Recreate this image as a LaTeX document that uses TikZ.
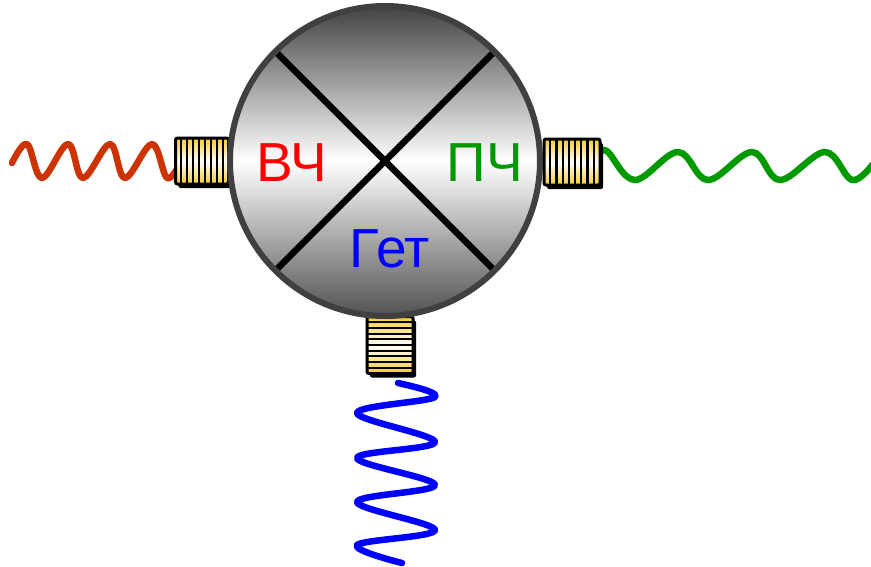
\documentclass[tikz,border=0pt]{standalone}
\usepackage{fontspec}
\setmainfont{Liberation Sans}
\usetikzlibrary{calc,shadows}
\definecolor{brass}{HTML}{F5CA2E}
\definecolor{rfred}{HTML}{CC3300}
\definecolor{ifgreen}{HTML}{009900}
\definecolor{rim}{HTML}{404040}
\begin{document}
\begin{tikzpicture}[x=1pt, y=-1pt,
        mixer/.style={circle, draw=rim, line width=6pt, minimum size=310pt, inner sep=0pt,
            top color=black!74, bottom color=black!68, middle color=white},
        port/.style={rectangle, draw=black, line width=3pt, rounded corners=2pt, inner sep=0pt,
            top color=brass, bottom color=brass, middle color=white,
            general shadow={fill=black, shadow xshift=3pt, shadow yshift=-4pt}},
        vstripes/.style={path picture={
            \foreach \i in {1,...,8}
                \draw[line width=2.2pt]
                    ($(path picture bounding box.north west)!\i/9!(path picture bounding box.north east)$) --
                    ($(path picture bounding box.south west)!\i/9!(path picture bounding box.south east)$);
        }},
        hstripes/.style={path picture={
            \foreach \i in {1,...,9}
                \draw[line width=1.9pt]
                    ($(path picture bounding box.north west)!\i/10!(path picture bounding box.south west)$) --
                    ($(path picture bounding box.north east)!\i/10!(path picture bounding box.south east)$);
        }},
        wave/.style={line width=6.5pt, line cap=round, line join=round},
        sig/.style={font=\fontsize{55}{60}\selectfont, inner sep=0pt}
    ]
        \useasboundingbox (0,0) rectangle (871,566);

        % Signal waves
        \coordinate (rfsrc) at (12,163);
        \coordinate (ifdst) at (873,164);
        \coordinate (losrc) at (402,563);
        \draw[wave, rfred] plot[smooth, tension=0.6] coordinates {(rfsrc) (27,144) (42,178) (68,144) (83,178)
            (110,144) (125,178) (152,144) (167,178) (180,163)};
        \draw[wave, ifgreen] plot[smooth, tension=0.6] coordinates {(601,152) (608,152) (635,180) (678,152)
            (708,180) (752,152) (780,180) (825,152) (852,180) (ifdst)};
        \draw[wave, blue] plot[smooth, tension=0.6] coordinates {(398,383) (435,397) (357,413) (435,442)
            (357,458) (435,485) (357,502) (435,530) (357,545) (losrc)};

        % Connectors
        \node[port, vstripes, minimum width=53pt, minimum height=46pt] (rfport) at (202,161) {};
        \node[port, vstripes, minimum width=56pt, minimum height=46pt] (ifport) at (572,162) {};
        \node[port, hstripes, minimum width=46pt, minimum height=57pt] (loport) at (390,345) {};

        % Mixer body
        \node[mixer] (mix) at (385,161) {};
        \draw[line width=6.5pt] ($(mix.center)!0.96!(mix.135)$) -- ($(mix.center)!0.96!(mix.-45)$);
        \draw[line width=6.5pt] ($(mix.center)!0.96!(mix.45)$) -- ($(mix.center)!0.96!(mix.-135)$);

        % Port names
        \node[sig, text=red] (rf) at (292,163) {ВЧ};
        \node[sig, text=ifgreen] (ifout) at (485,163) {ПЧ};
        \node[sig, text=blue] (lo) at (390,249) {Гет};
    \end{tikzpicture}
\end{document}
